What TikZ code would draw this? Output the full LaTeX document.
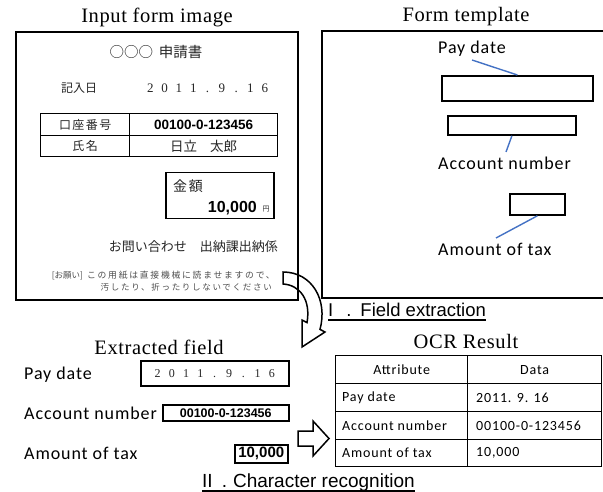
\documentclass[tikz,border=0pt]{standalone}
\usepackage{fontspec}
\setmainfont{Liberation Serif}
\newfontfamily\jpf{Noto Sans CJK JP}
\newfontfamily\jpsp{Noto Sans CJK JP}[LetterSpace=12]
\newfontfamily\jpsm{Noto Sans CJK JP}[LetterSpace=20]
\newfontfamily\lsans{Liberation Sans}
\newfontfamily\carl{Carlito}[LetterSpace=5]
\newfontfamily\carlt{Carlito}[LetterSpace=6]
\newfontfamily\titlef{Liberation Serif}[LetterSpace=3]
\newcommand\fs[1]{\fontsize{#1}{#1}\selectfont}
\newcommand\wc[1]{\makebox[14.3pt]{#1}}
\definecolor{leaderblue}{RGB}{68,114,196}
\begin{document}
\begin{tikzpicture}[x=1pt,y=-1pt,
  frame/.style={draw, line width=2pt, inner sep=0, anchor=north west},
  title/.style={font=\titlef\fs{20.5}, inner sep=0},
  lab/.style={font=\carl\fs{18}, inner sep=0, anchor=west},
  fbox/.style={draw, line width=1.8pt, inner sep=0, anchor=north west},
  leader/.style={draw=leaderblue, line width=1.4pt},
  cell/.style={draw, line width=1.4pt, inner sep=0, anchor=north west},
  ocr/.style={font=\carlt\fs{14}, inner sep=0},
  jp/.style={font=\jpf\fs{13}, inner sep=0, text=black!85},
  step label/.style={font=\lsans\fs{18.5}, inner sep=0, anchor=base west},
  uline/.style={line width=1.2pt},
  bigarrow/.style={draw, line width=1.5pt}]
\useasboundingbox (0,0) rectangle (603,492);

% titles
\node[title] (t1) at (157,17) {Input form image};
\node[title] (t2) at (466,17) {Form template};
\node[title] (t3) at (159,347) {Extracted field};
\node[title] (t4) at (466,341) {OCR Result};

% input form
\node[frame, minimum width=282pt, minimum height=268pt] (inbox) at (15,31) {};
\node[jp, font=\jpf\fs{14.5}] (ftitle) at (156,52) {○○○\hspace{6pt}申請書};
\node[jp, font=\jpf\fs{12}] (kinyu) at (79,88) {記入日};
\node[inner sep=0, anchor=west, font=\fs{13}, text=black!85] (fdate) at (143,88) {\wc{2}\wc{0}\wc{1}\wc{1}\wc{.}\wc{9}\wc{.}\wc{1}\wc{6}};
\node[cell, minimum width=89pt, minimum height=22pt, font=\jpsp\fs{12}, text=black!85] (c11) at (40,113) {口座番号};
\node[cell, minimum width=148pt, minimum height=22pt, font=\lsans\bfseries\fs{13.5}] (c12) at (129,113) {00100-0-123456};
\node[cell, minimum width=89pt, minimum height=21pt, font=\jpsp\fs{12}, text=black!85] (c21) at (40,135) {氏名};
\node[cell, minimum width=148pt, minimum height=21pt, font=\jpf\fs{13.5}, text=black!85] (c22) at (129,135) {日立\hspace{13pt}太郎};
\node[fbox, line width=1.5pt, minimum width=108pt, minimum height=46pt] (amt) at (165,172) {};
\node[jp, font=\jpsp\fs{14}, anchor=west] (kingaku) at (173,186) {金額};
\node[inner sep=0, anchor=east, font=\lsans\bfseries\fs{16}] (amtv) at (257,208) {10,000};
\node[jp, font=\jpf\fs{7}] (yen) at (266,209) {円};
\node[jp, anchor=east] (toi) at (278,247) {お問い合わせ　出納課出納係};
\node[inner sep=0, anchor=east, text=black!70] (note1) at (275,276) {{\jpf\fs{8.5}[お願い]}\hspace{4pt}{\jpsm\fs{8.8}この用紙は直接機械に読ませますので、}};
\node[inner sep=0, anchor=east, text=black!70, font=\jpsm\fs{8.5}] (note2) at (272,287) {汚したり、折ったりしないでください};

% form template
\coordinate (tpa) at (603,31);
\coordinate (tpb) at (322,31);
\coordinate (tpc) at (322,298);
\coordinate (tpd) at (603,298);
\draw[line width=2pt] (tpa) -- (tpb) -- (tpc) -- (tpd);
\node[lab] (tpay) at (438,49) {Pay date};
\node[fbox, minimum width=151pt, minimum height=25pt] (r1) at (441,75) {};
\coordinate (l1) at (472,60);
\draw[leader] (l1) -- (r1.north);
\node[fbox, minimum width=128pt, minimum height=19pt] (r2) at (447,115) {};
\coordinate (l2) at (506,152);
\draw[leader] (r2.south) -- (l2);
\node[lab] (tacc) at (438,163) {Account number};
\node[fbox, minimum width=55pt, minimum height=21pt] (r3) at (509,193) {};
\coordinate (l3) at (496,238);
\draw[leader] (r3.south) -- (l3);
\node[lab] (tamt) at (438,249) {Amount of tax};

% curved arrow (field extraction)
\draw[bigarrow] (283,272) -- (283,284) .. controls (300,285) and (311,300) .. (307,322.6)
  -- (302,320) -- (302,347) -- (325,332) -- (320,329.4)
  .. controls (328,300) and (312,272) .. (283,272) -- cycle;
\node[step label] (fe) at (328,316) {I\hspace{13pt}.\hspace{9pt}Field extraction};
\draw[uline] ([yshift=-4pt]fe.base west) -- ([yshift=-4pt]fe.base east);

% extracted fields
\node[lab] (epay) at (24,375) {Pay date};
\node[fbox, line width=1.5pt, minimum width=148pt, minimum height=25pt, font=\fs{12}, text=black!85] (epbox) at (140,360) {\wc{2}\wc{0}\wc{1}\wc{1}\wc{.}\wc{9}\wc{.}\wc{1}\wc{6}};
\node[lab] (eacc) at (24,413) {Account number};
\node[fbox, line width=1.5pt, minimum width=126pt, minimum height=16pt, font=\lsans\bfseries\fs{12.5}] (eabox) at (162,404) {00100-0-123456};
\node[lab] (eamt) at (24,453) {Amount of tax};
\node[fbox, line width=1.5pt, minimum width=53pt, minimum height=18pt, font=\lsans\bfseries\fs{15}] (etbox) at (234,444) {10,000};

% block arrow
\draw[bigarrow] (298,431) -- (313,431) -- (313,421) -- (329,438.5) -- (313,456) -- (313,446) -- (298,446) -- cycle;

% OCR table
\node[cell, minimum width=132pt, minimum height=28pt] (h1) at (335,355) {};
\node[cell, minimum width=134pt, minimum height=28pt] (h2) at (467,355) {};
\node[cell, minimum width=132pt, minimum height=28pt] (a1) at (335,383) {};
\node[cell, minimum width=134pt, minimum height=28pt] (a2) at (467,383) {};
\node[cell, minimum width=132pt, minimum height=28pt] (b1) at (335,411) {};
\node[cell, minimum width=134pt, minimum height=28pt] (b2) at (467,411) {};
\node[cell, minimum width=132pt, minimum height=27pt] (d1) at (335,439) {};
\node[cell, minimum width=134pt, minimum height=27pt] (d2) at (467,439) {};
\node[ocr] (th1) at (h1.center) {Attribute};
\node[ocr] (th2) at (h2.center) {Data};
\node[ocr, anchor=west] (ta1) at ([xshift=7pt]a1.west) {Pay date};
\node[ocr, anchor=west] (ta2) at ([xshift=9pt]a2.west) {2011. 9. 16};
\node[ocr, anchor=west] (tb1) at ([xshift=7pt]b1.west) {Account number};
\node[ocr, anchor=west] (tb2) at ([xshift=9pt]b2.west) {00100-0-123456};
\node[ocr, anchor=west] (td1) at ([xshift=7pt]d1.west) {Amount of tax};
\node[ocr, anchor=west] (td2) at ([xshift=9pt]d2.west) {10,000};

\node[step label, font=\lsans\fs{19}] (cr) at (202,487) {II\hspace{9pt}.\hspace{6pt}Character recognition};
\draw[uline] ([yshift=-4pt]cr.base west) -- ([yshift=-4pt]cr.base east);
\end{tikzpicture}
\end{document}
